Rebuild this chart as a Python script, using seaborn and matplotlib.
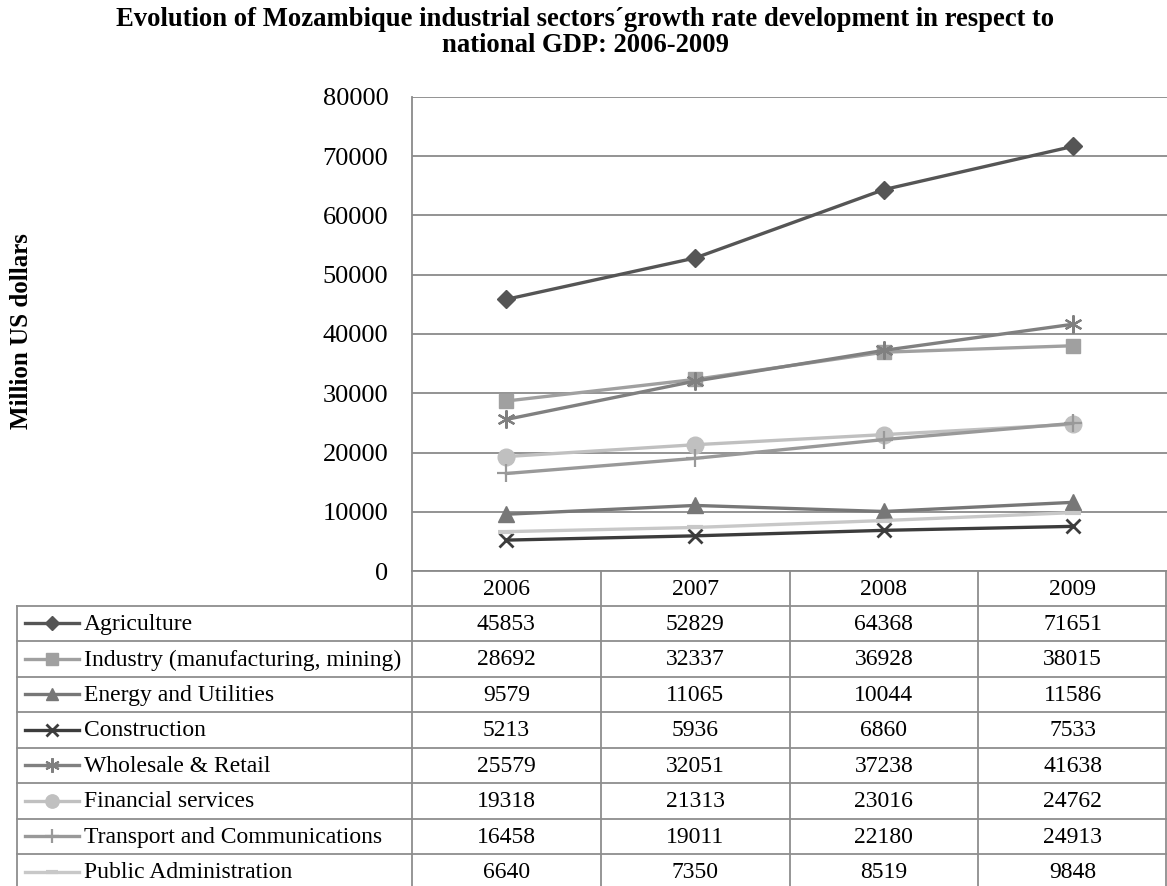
import matplotlib
matplotlib.use("Agg")
import matplotlib.pyplot as plt
import seaborn as sns
import pandas as pd

# ---- data ----
years = ["2006", "2007", "2008", "2009"]
sectors = ["Agriculture", "Industry (manufacturing, mining)", "Energy and Utilities",
           "Construction", "Wholesale & Retail", "Financial services",
           "Transport and Communications", "Public Administration"]
agriculture = [45853, 52829, 64368, 71651]
industry = [28692, 32337, 36928, 38015]
energy = [9579, 11065, 10044, 11586]
construction = [5213, 5936, 6860, 7533]
wholesale = [25579, 32051, 37238, 41638]
financial = [19318, 21313, 23016, 24762]
transport = [16458, 19011, 22180, 24913]
public_admin = [6640, 7350, 8519, 9848]
series = [agriculture, industry, energy, construction, wholesale, financial, transport, public_admin]

# ---- styles ----
colors = ["#555555", "#a0a0a0", "#777777", "#3c3c3c", "#808080", "#c0c0c0", "#999999", "#c8c8c8"]
markers = ["D", "s", "^", "x", (6, 2, 0), "o", "+", "_"]
msizes = [9, 10, 11, 10, 13, 12, 13, 11]
mews = [1, 1, 1, 2, 1.6, 1, 1.6, 3]

rows = []
for name, vals in zip(sectors, series):
    for y, v in zip(years, vals):
        rows.append({"Year": y, "Sector": name, "Value": v})
df = pd.DataFrame(rows)

plt.rcParams["font.family"] = ["Liberation Serif", "DejaVu Serif"]

W, H = 1167, 886
fig = plt.figure(figsize=(W / 100, H / 100), dpi=100)

left_px, right_px, top_px, bot_px = 412, 1167, 97, 571
ax = fig.add_axes([left_px / W, 1 - bot_px / H, (right_px - left_px) / W, (bot_px - top_px) / H])

for name, c, m, ms, mw in zip(sectors, colors, markers, msizes, mews):
    sub = df[df["Sector"] == name]
    sns.lineplot(data=sub, x="Year", y="Value", color=c, marker=m, ms=ms, mew=mw,
                 mec=c, mfc=c, lw=2.4, ax=ax, zorder=3, clip_on=False)

ax.set_xlim(-0.5, 3.5)
ax.set_ylim(0, 80000)
ax.set_yticks(range(0, 80001, 10000))
ax.set_xticks([])
ax.set_xlabel("")
ax.set_ylabel("")
ax.tick_params(axis="y", length=0, pad=17, labelsize=19)
ax.grid(axis="y", color="#8a8a8a", lw=1.3)
ax.set_axisbelow(True)
for s in ["top", "right"]:
    ax.spines[s].set_visible(False)
ax.spines["left"].set_color("#8a8a8a")
ax.spines["left"].set_linewidth(1.3)
ax.spines["bottom"].set_color("#8a8a8a")
ax.spines["bottom"].set_linewidth(1.3)

# ---- data table ----
tax = fig.add_axes([0, 0, 1, 1], zorder=-1)
tax.set_xlim(0, W)
tax.set_ylim(H, 0)
tax.axis("off")
gc = "#8e8e8e"
colw = (right_px - left_px) / len(years)
head_bot = 605.7
rowh = 35.5
tbl_left = 17
bottom_y = head_bot + rowh * len(sectors)
for k in range(len(sectors) + 1):
    yk = head_bot + k * rowh
    tax.plot([tbl_left, right_px], [yk, yk], color=gc, lw=1.3)
tax.plot([tbl_left, tbl_left], [head_bot, bottom_y], color=gc, lw=1.3)
for i in range(len(years) + 1):
    xi = left_px + i * colw
    if i == len(years):
        xi = right_px - 1
    tax.plot([xi, xi], [bot_px, bottom_y], color=gc, lw=1.3)

fs = 17
for i, yr in enumerate(years):
    tax.text(left_px + (i + 0.5) * colw, (bot_px + head_bot) / 2 + 1, yr,
             ha="center", va="center", fontsize=fs)
for r, (name, vals) in enumerate(zip(sectors, series)):
    yc = head_bot + (r + 0.5) * rowh + 1
    for i, v in enumerate(vals):
        tax.text(left_px + (i + 0.5) * colw, yc, str(v), ha="center", va="center", fontsize=fs)
    tax.text(84, yc, name, ha="left", va="center", fontsize=fs)
    tax.plot([25, 79], [yc - 1, yc - 1], color=colors[r], lw=2.4)
    tax.plot([52], [yc - 1], marker=markers[r], color=colors[r], mec=colors[r],
             ms=msizes[r] * 0.8, mew=mews[r])

# ---- title & axis label ----
cx = 585 / W
fig.text(cx, 1 - 20 / H,
         "Evolution of Mozambique industrial sectors\u00b4growth rate development in respect to",
         ha="center", va="center", fontsize=19.2, fontweight="bold")
fig.text(cx, 1 - 45 / H, "national GDP: 2006-2009",
         ha="center", va="center", fontsize=19.2, fontweight="bold")
fig.text(22 / W, 1 - 331 / H, "Million US dollars", rotation=90, ha="center", va="center",
         fontsize=18, fontweight="bold")

fig.savefig("out.png", dpi=100)
